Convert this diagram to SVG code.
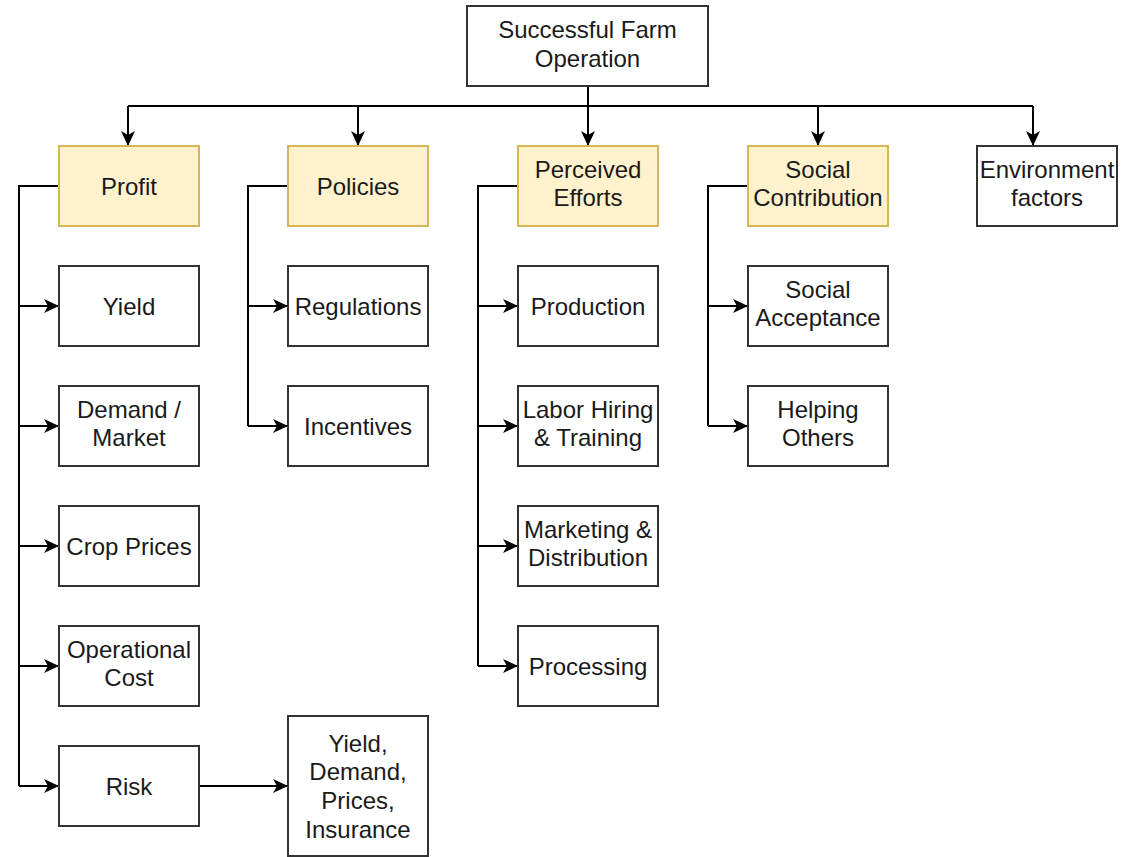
<svg xmlns="http://www.w3.org/2000/svg" width="1121" height="857" viewBox="0 0 1121 857">
<style>
.box{fill:#ffffff;stroke:#333333;stroke-width:2}
.hi{fill:#fff2cc;stroke:#d6b656;stroke-width:2}
.t{font-family:"Liberation Sans",Arial,sans-serif;font-size:24px;fill:#1a1a1a;text-anchor:middle}
.c{fill:none;stroke:#000000;stroke-width:2}
</style>
<defs>
<marker id="arr" markerUnits="userSpaceOnUse" markerWidth="16" markerHeight="14" refX="15" refY="7" orient="auto" viewBox="0 0 16 14">
<path d="M0,0 L15,7 L0,14 L4,7 z" fill="#000000"/>
</marker>
</defs>
<rect width="1121" height="857" fill="#ffffff"/>
<g id="connectors">
<path class="c" d="M588,86 V106"/>
<path class="c" d="M128,106 H1033"/>
<path class="c" d="M128,106 V146" marker-end="url(#arr)"/>
<path class="c" d="M358,106 V146" marker-end="url(#arr)"/>
<path class="c" d="M588,106 V146" marker-end="url(#arr)"/>
<path class="c" d="M818,106 V146" marker-end="url(#arr)"/>
<path class="c" d="M1033,106 V146" marker-end="url(#arr)"/>
<path class="c" d="M59,186 H19 V786"/>
<path class="c" d="M19,306 H59" marker-end="url(#arr)"/>
<path class="c" d="M19,426 H59" marker-end="url(#arr)"/>
<path class="c" d="M19,546 H59" marker-end="url(#arr)"/>
<path class="c" d="M19,666 H59" marker-end="url(#arr)"/>
<path class="c" d="M19,786 H59" marker-end="url(#arr)"/>
<path class="c" d="M288,186 H248 V426"/>
<path class="c" d="M248,306 H288" marker-end="url(#arr)"/>
<path class="c" d="M248,426 H288" marker-end="url(#arr)"/>
<path class="c" d="M518,186 H478 V666"/>
<path class="c" d="M478,306 H518" marker-end="url(#arr)"/>
<path class="c" d="M478,426 H518" marker-end="url(#arr)"/>
<path class="c" d="M478,546 H518" marker-end="url(#arr)"/>
<path class="c" d="M478,666 H518" marker-end="url(#arr)"/>
<path class="c" d="M748,186 H708 V426"/>
<path class="c" d="M708,306 H748" marker-end="url(#arr)"/>
<path class="c" d="M708,426 H748" marker-end="url(#arr)"/>
<path class="c" d="M199,786 H288" marker-end="url(#arr)"/>
</g>
<g id="root"><rect class="box" x="467" y="6" width="241" height="80"/><text class="t" x="587.5" y="37.5">Successful Farm</text><text class="t" x="587.5" y="66.5">Operation</text></g>
<g id="profit"><rect class="hi" x="59" y="146" width="140" height="80"/><text class="t" x="129" y="194.5">Profit</text></g>
<g id="policies"><rect class="hi" x="288" y="146" width="140" height="80"/><text class="t" x="358" y="194.5">Policies</text></g>
<g id="perceived"><rect class="hi" x="518" y="146" width="140" height="80"/><text class="t" x="588" y="177.5">Perceived</text><text class="t" x="588" y="206.2">Efforts</text></g>
<g id="social"><rect class="hi" x="748" y="146" width="140" height="80"/><text class="t" x="818" y="177.5">Social</text><text class="t" x="818" y="206.2">Contribution</text></g>
<g id="environment"><rect class="box" x="977" y="146" width="140" height="80"/><text class="t" x="1047" y="177.5">Environment</text><text class="t" x="1047" y="206.2">factors</text></g>
<g id="yield"><rect class="box" x="59" y="266" width="140" height="80"/><text class="t" x="129" y="314.5">Yield</text></g>
<g id="demand"><rect class="box" x="59" y="386" width="140" height="80"/><text class="t" x="129" y="417.5">Demand /</text><text class="t" x="129" y="446.2">Market</text></g>
<g id="cropprices"><rect class="box" x="59" y="506" width="140" height="80"/><text class="t" x="129" y="554.5">Crop Prices</text></g>
<g id="opcost"><rect class="box" x="59" y="626" width="140" height="80"/><text class="t" x="129" y="657.5">Operational</text><text class="t" x="129" y="686.2">Cost</text></g>
<g id="risk"><rect class="box" x="59" y="746" width="140" height="80"/><text class="t" x="129" y="794.5">Risk</text></g>
<g id="riskdetail"><rect class="box" x="288" y="716" width="140" height="140"/><text class="t" x="358" y="751.5">Yield,</text><text class="t" x="358" y="780.2">Demand,</text><text class="t" x="358" y="808.9">Prices,</text><text class="t" x="358" y="837.6">Insurance</text></g>
<g id="regulations"><rect class="box" x="288" y="266" width="140" height="80"/><text class="t" x="358" y="314.5">Regulations</text></g>
<g id="incentives"><rect class="box" x="288" y="386" width="140" height="80"/><text class="t" x="358" y="434.5">Incentives</text></g>
<g id="production"><rect class="box" x="518" y="266" width="140" height="80"/><text class="t" x="588" y="314.5">Production</text></g>
<g id="labor"><rect class="box" x="518" y="386" width="140" height="80"/><text class="t" x="588" y="417.5">Labor Hiring</text><text class="t" x="588" y="446.2">&amp; Training</text></g>
<g id="marketing"><rect class="box" x="518" y="506" width="140" height="80"/><text class="t" x="588" y="537.5">Marketing &amp;</text><text class="t" x="588" y="566.2">Distribution</text></g>
<g id="processing"><rect class="box" x="518" y="626" width="140" height="80"/><text class="t" x="588" y="674.5">Processing</text></g>
<g id="acceptance"><rect class="box" x="748" y="266" width="140" height="80"/><text class="t" x="818" y="297.5">Social</text><text class="t" x="818" y="326.2">Acceptance</text></g>
<g id="helping"><rect class="box" x="748" y="386" width="140" height="80"/><text class="t" x="818" y="417.5">Helping</text><text class="t" x="818" y="446.2">Others</text></g>
</svg>
